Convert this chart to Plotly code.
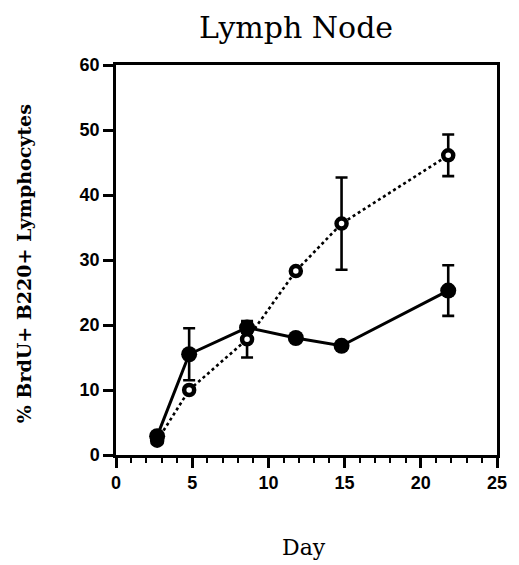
import plotly.graph_objects as go

# Days sampled
days = [2.7, 4.8, 8.6, 11.8, 14.8, 21.8]

# % BrdU+ B220+ lymphocytes, filled-circle series
filled_vals = [2.9, 15.5, 19.6, 18.0, 16.8, 25.3]
filled_err = [0.0, 4.0, 0.8, 0.0, 0.0, 3.9]

# % BrdU+ B220+ lymphocytes, open-circle series
open_vals = [2.2, 10.0, 17.8, 28.3, 35.6, 46.1]
open_err = [0.0, 0.0, 2.8, 0.0, 7.1, 3.2]

x_ticks = [0, 5, 10, 15, 20, 25]
y_ticks = [0, 10, 20, 30, 40, 50, 60]

fig = go.Figure()

fig.add_trace(go.Scatter(
    x=days, y=open_vals, mode="lines+markers",
    line=dict(color="black", width=2.6, dash="dot"),
    marker=dict(symbol="circle", size=10, color="white",
                line=dict(color="black", width=4.5)),
    error_y=dict(type="data", array=open_err, visible=True,
                 color="black", thickness=2.6, width=6),
    showlegend=False,
))

fig.add_trace(go.Scatter(
    x=days, y=filled_vals, mode="lines+markers",
    line=dict(color="black", width=3),
    marker=dict(symbol="circle", size=16, color="black"),
    error_y=dict(type="data", array=filled_err, visible=True,
                 color="black", thickness=2.6, width=6),
    showlegend=False,
))

tick_font = dict(family="Liberation Sans", size=18, color="black", weight="bold")
serif = "DejaVu Serif"

fig.update_layout(
    width=519, height=565,
    margin=dict(l=116, r=16, t=65, b=110),
    paper_bgcolor="white", plot_bgcolor="white",
    xaxis=dict(
        range=[0, 25], tickvals=x_ticks, ticktext=[str(v) for v in x_ticks],
        showgrid=False, zeroline=False,
        showline=True, linecolor="black", linewidth=2.5, mirror=True,
        ticks="outside", ticklen=10, tickwidth=2.5, tickcolor="black",
        minor=dict(dtick=1, ticks="outside", ticklen=5, tickwidth=1.5, tickcolor="black"),
        tickfont=tick_font,
    ),
    yaxis=dict(
        range=[0, 60], tickvals=y_ticks, ticktext=[str(v) for v in y_ticks],
        showgrid=False, zeroline=False,
        showline=True, linecolor="black", linewidth=2.5, mirror=True,
        ticks="outside", ticklen=10, tickwidth=2.5, tickcolor="black",
        tickfont=tick_font,
    ),
    annotations=[
        dict(text="Lymph Node", xref="paper", yref="paper", x=0.473, y=1.095,
             xanchor="center", yanchor="middle", showarrow=False,
             font=dict(family=serif, size=30, color="black")),
        dict(text="Day", xref="paper", yref="paper", x=0.4935, y=-0.238,
             xanchor="center", yanchor="middle", showarrow=False,
             font=dict(family=serif, size=22, color="black")),
        dict(text="% BrdU+ B220+ Lymphocytes", xref="paper", yref="paper",
             x=-0.243, y=0.49, textangle=-90,
             xanchor="center", yanchor="middle", showarrow=False,
             font=dict(family=serif, size=19, color="black", weight="bold")),
    ],
)

fig.write_html("out.html")
